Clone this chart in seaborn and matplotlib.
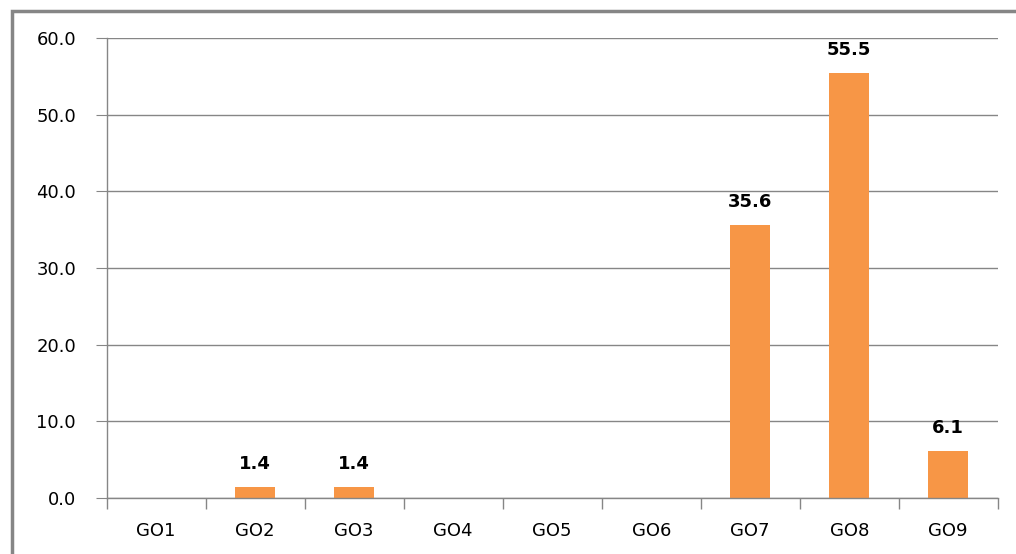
import pandas as pd
import seaborn as sns
import matplotlib.pyplot as plt
from matplotlib.patches import Rectangle

groups = ["GO1", "GO2", "GO3", "GO4", "GO5", "GO6", "GO7", "GO8", "GO9"]
values = [0.0, 1.4, 1.4, 0.0, 0.0, 0.0, 35.6, 55.5, 6.1]
shown = [False, True, True, False, False, False, True, True, True]
yticks = [0, 10, 20, 30, 40, 50, 60]

df = pd.DataFrame({"group": groups, "value": values})

sns.set_style("white")
plt.rcParams["font.family"] = ["DejaVu Sans"]
plt.rcParams["text.color"] = "black"
plt.rcParams["xtick.color"] = "black"
plt.rcParams["ytick.color"] = "black"

fig = plt.figure(figsize=(10.16, 5.54), dpi=100)
ax = fig.add_axes([0.105, 0.101, 0.877, 0.83])

sns.barplot(data=df, x="group", y="value", color="#F79646", width=0.4,
            saturation=1, linewidth=0, ax=ax)

ax.set_ylim(0, 60)
ax.set_xlim(-0.5, 8.5)
ax.set_yticks(yticks)
ax.set_yticklabels([f"{t:.1f}" for t in yticks], fontsize=13)
ax.yaxis.grid(True, color="#868686", linewidth=1)
ax.set_axisbelow(True)
ax.set_xlabel("")
ax.set_ylabel("")

for s in ["top", "right"]:
    ax.spines[s].set_visible(False)
for s in ["left", "bottom"]:
    ax.spines[s].set_color("#868686")
    ax.spines[s].set_linewidth(1)

ax.tick_params(axis="y", left=True, length=8, color="#868686", labelcolor="black", pad=14)
ax.tick_params(axis="x", bottom=False, labelsize=13, labelcolor="black", pad=14)
ax.set_xticks(range(len(groups)))
ax.set_xticklabels(groups)
ax.set_xticks([i + 0.5 for i in range(-1, len(groups))], minor=True)
ax.tick_params(axis="x", which="minor", bottom=True, length=8, width=1,
               color="#868686", direction="out")

for i, (v, s) in enumerate(zip(values, shown)):
    if s:
        ax.annotate(f"{v:.1f}", (i, v), xytext=(0, 10), textcoords="offset points",
                    ha="center", va="bottom", fontsize=13, fontweight="bold",
                    color="black")

# outer chart border (cut at right and bottom in reference)
fig.patches.append(Rectangle((0.012, -0.05), 1.1, 1.03, transform=fig.transFigure,
                             fill=False, edgecolor="#868686", linewidth=2.5))

fig.savefig("out.png", dpi=100)
